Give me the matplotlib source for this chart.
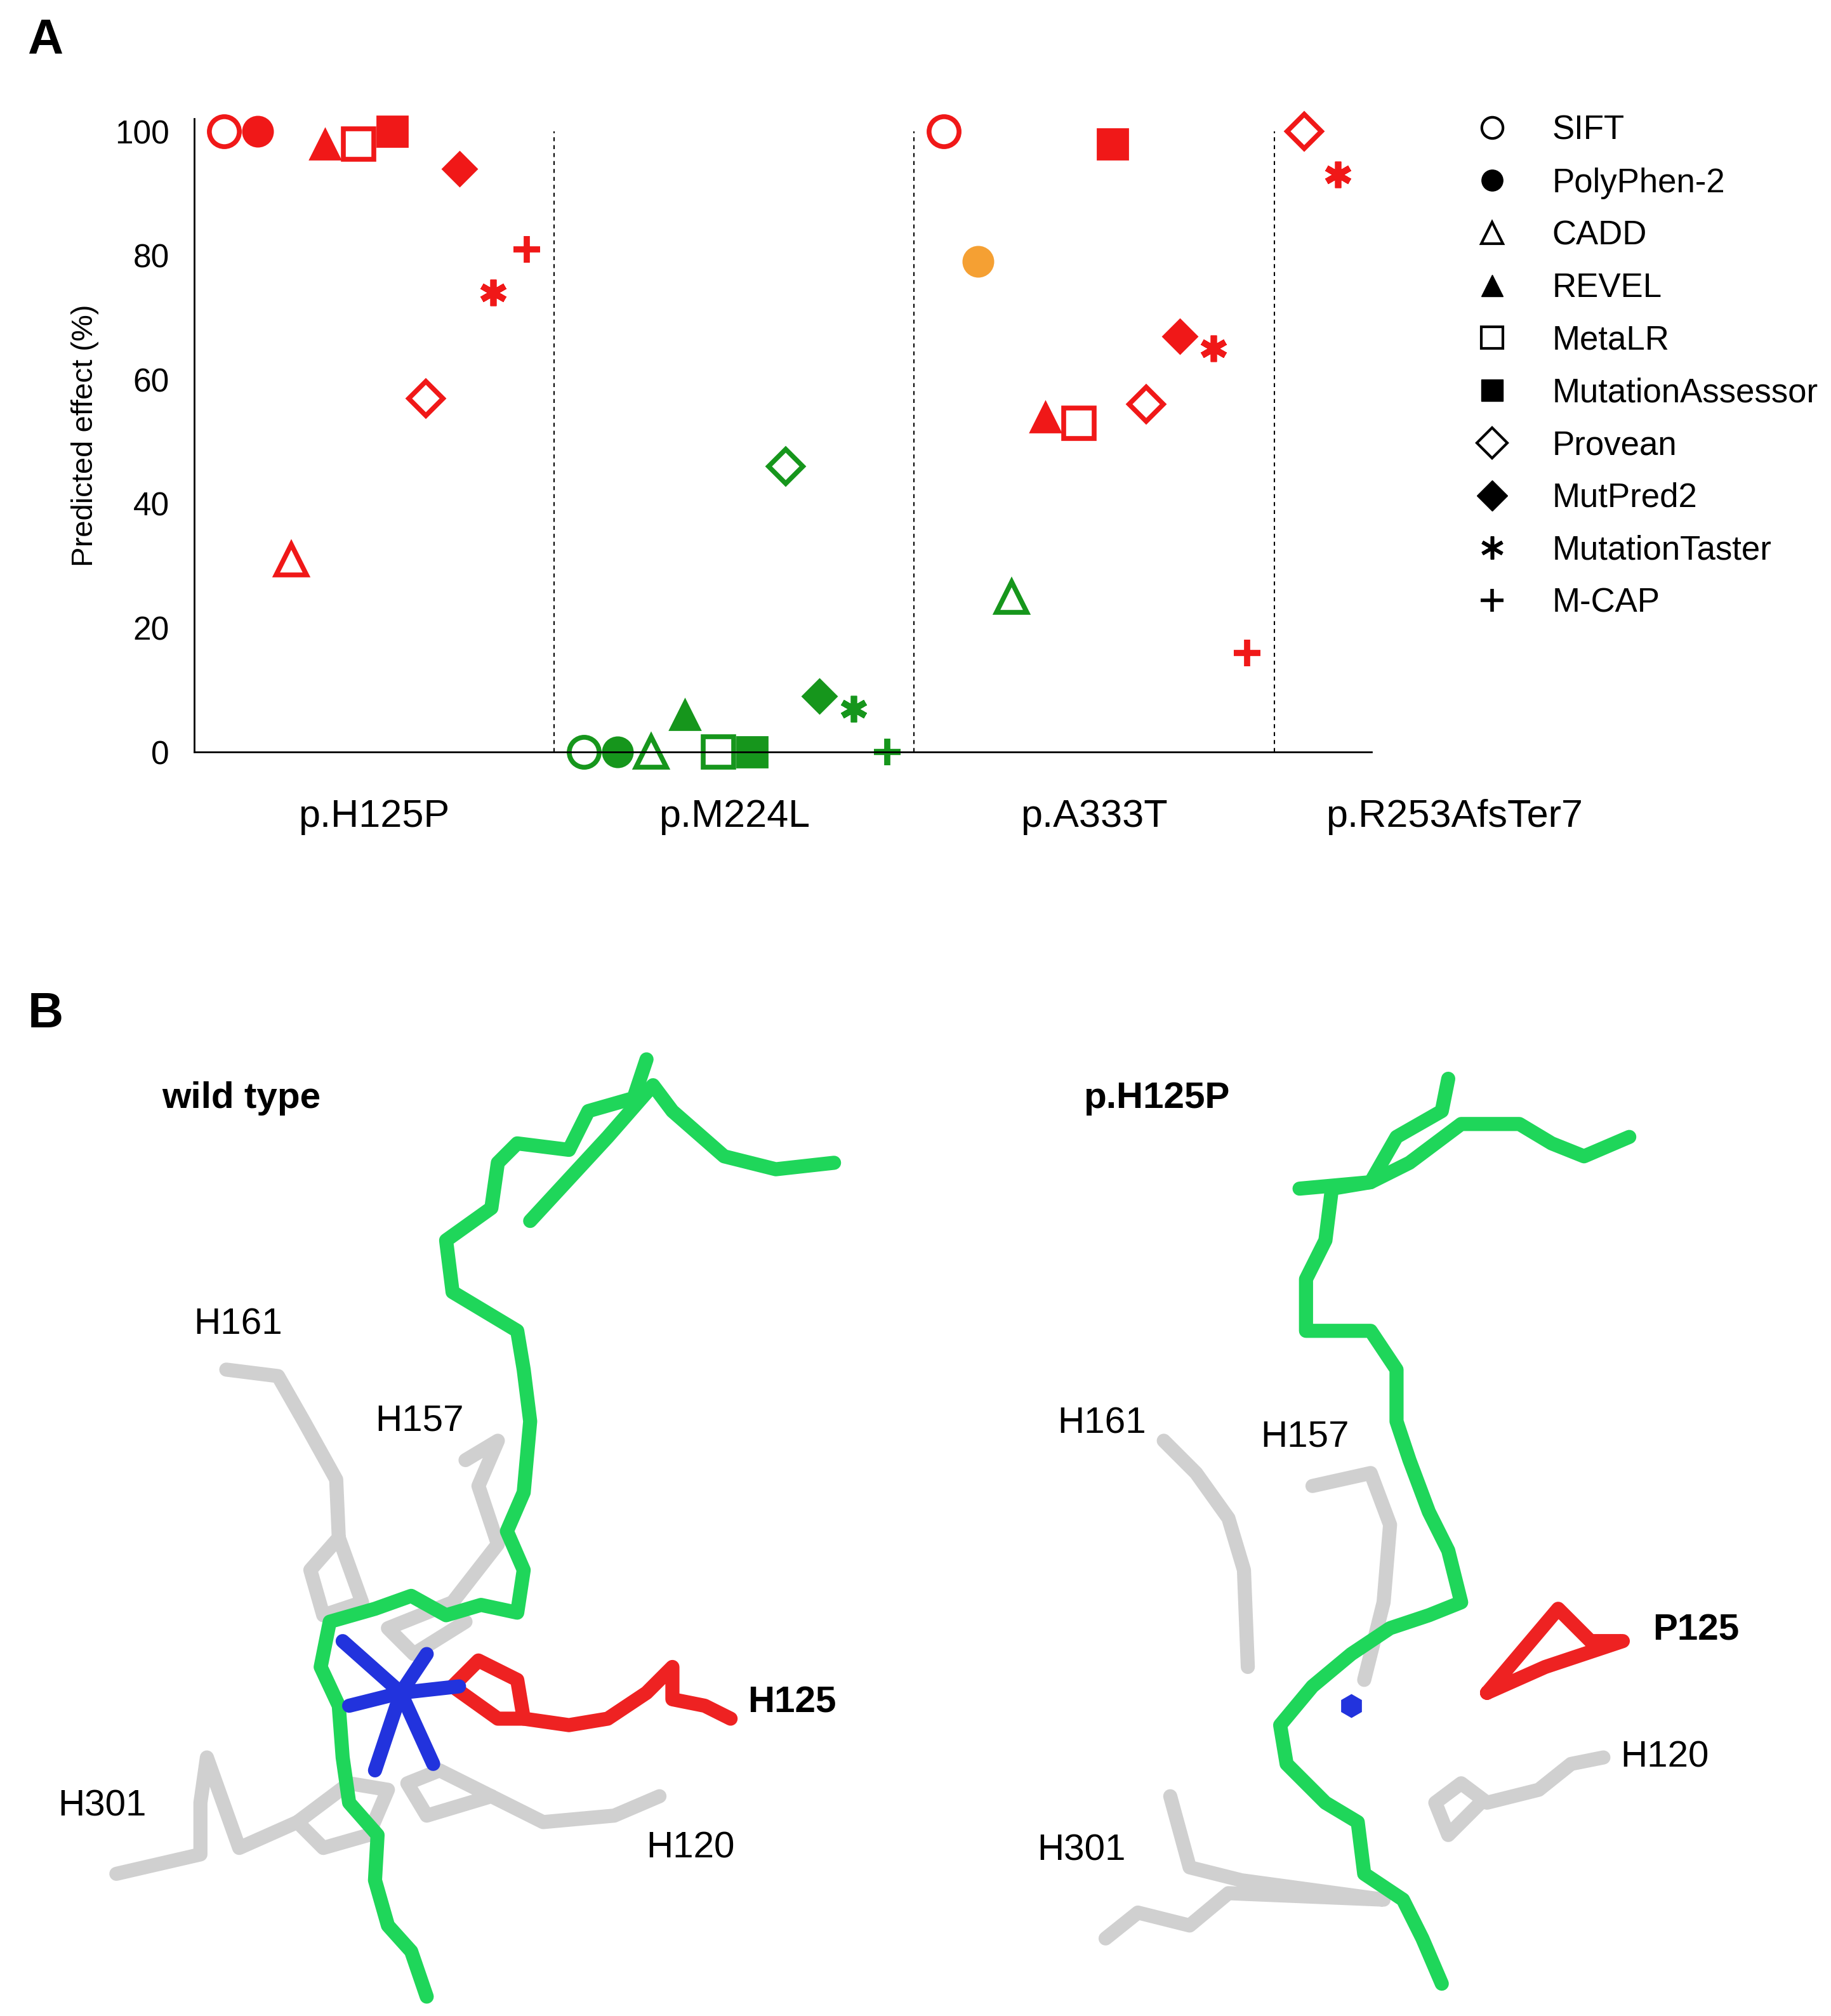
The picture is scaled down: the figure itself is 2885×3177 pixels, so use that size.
import matplotlib.pyplot as plt
from matplotlib.lines import Line2D

plt.rcParams['font.family'] = ['Arial', 'Liberation Sans', 'DejaVu Sans']

# ---- Panel A data ----
variants = ['p.H125P', 'p.M224L', 'p.A333T', 'p.R253AfsTer7']
tools = ['SIFT', 'PolyPhen-2', 'CADD', 'REVEL', 'MetaLR', 'MutationAssessor',
         'Provean', 'MutPred2', 'MutationTaster', 'M-CAP']
markers = ['o', 'o', '^', '^', 's', 's', 'D', 'D', (6, 2, 0), '+']
filled = [False, True, False, True, False, True, False, True, True, True]

h125p = [100, 100, 31, 98, 98, 100, 57, 94, 74, 81]
m224l = [0, 0, 0, 6, 0, 0, 46, 9, 7, 0]
a333t = [100, 79, 25, 54, 53, 98, 56, 67, 65, 16]
r253 = [None, None, None, None, None, None, 100, None, 93, None]

RED, GREEN, ORANGE = '#f01818', '#16961c', '#f5a033'
h125p_col = [RED] * 10
m224l_col = [GREEN] * 10
a333t_col = [RED, ORANGE, GREEN, RED, RED, RED, RED, RED, RED, RED]
r253_col = [RED] * 10

series = [(h125p, h125p_col), (m224l, m224l_col), (a333t, a333t_col), (r253, r253_col)]

fig = plt.figure(figsize=(28.85, 31.77), dpi=100)
ax = fig.add_axes([0.106, 0.627, 0.643, 0.314])

for g, (vals, cols) in enumerate(series):
    k = 0
    for t in range(10):
        if vals[t] is None:
            continue
        x = g + 0.083 + k * 0.0935
        k += 1
        m = markers[t]
        ms = 34 if m != 'D' else 27
        if t >= 8:
            ax.plot(x, vals[t], marker=m, color=cols[t], ms=30, mew=7, clip_on=False)
        elif filled[t]:
            ax.plot(x, vals[t], marker=m, color=cols[t], ms=ms, mew=2, clip_on=False)
        else:
            ax.plot(x, vals[t], marker=m, mfc='white', mec=cols[t], ms=ms, mew=5.5, clip_on=False)

for xd in [1, 2, 3]:
    ax.axvline(xd, color='black', ls=(0, (3, 3)), lw=1.5, ymin=0, ymax=0.98)

ax.set_xlim(0, 3.27)
ax.set_ylim(0, 102)
ax.set_yticks([0, 20, 40, 60, 80, 100])
ax.tick_params(axis='y', length=0, labelsize=37, pad=28)
ax.set_xticks([])
ax.spines['top'].set_visible(False)
ax.spines['right'].set_visible(False)
ax.spines['left'].set_linewidth(2)
ax.spines['bottom'].set_linewidth(2)
ax.set_ylabel('Predicted effect (%)', fontsize=34, labelpad=18)
for g, v in enumerate(variants):
    ax.text(g + 0.5, -10.5, v, ha='center', va='center', fontsize=44, clip_on=False)

handles = []
for t in range(10):
    m = markers[t]
    if t >= 8:
        h = Line2D([], [], ls='', marker=m, color='black', ms=26, mew=4)
    elif filled[t]:
        h = Line2D([], [], ls='', marker=m, color='black', ms=24)
    else:
        h = Line2D([], [], ls='', marker=m, mfc='white', mec='black', ms=24, mew=3)
    handles.append(h)
fig.legend(handles, tools, loc='upper left', bbox_to_anchor=(0.78, 0.958),
           frameon=False, fontsize=38, labelspacing=0.62, handletextpad=0.8)

fig.text(0.015, 0.98, 'A', fontsize=56, fontweight='bold', va='center')
fig.text(0.015, 0.497, 'B', fontsize=56, fontweight='bold', va='center')

# ---- Panel B: stick sketches (display coordinates) ----
wt_backbone = [(330, 1545), (318, 1510), (300, 1490), (290, 1455), (292, 1420), (270, 1395),
               (265, 1360), (262, 1320), (248, 1290), (255, 1255), (290, 1245), (318, 1235),
               (345, 1250), (372, 1242), (400, 1248), (405, 1215), (392, 1185), (405, 1155),
               (410, 1100), (405, 1060), (400, 1030), (350, 1000), (345, 960), (380, 935),
               (385, 900), (400, 885), (440, 890), (455, 860), (490, 850), (500, 820)]
wt_top = [(410, 945), (470, 880), (505, 840), (520, 860), (560, 895), (600, 905), (645, 900)]
wt_grey = [
    [(175, 1060), (215, 1065), (235, 1100), (260, 1145), (262, 1190), (240, 1215),
     (250, 1250), (280, 1240), (262, 1190)],
    [(360, 1130), (385, 1115), (370, 1150), (385, 1195), (350, 1240), (300, 1260),
     (320, 1280), (360, 1255)],
    [(90, 1450), (155, 1435), (155, 1395), (160, 1360), (185, 1430), (230, 1410),
     (250, 1430), (285, 1420), (300, 1385), (270, 1380), (230, 1410)],
    [(510, 1390), (475, 1405), (420, 1410), (380, 1390), (330, 1405), (315, 1380),
     (340, 1370), (380, 1390)],
]
wt_red = [(350, 1305), (370, 1285), (400, 1300), (405, 1330), (440, 1335), (470, 1330),
          (500, 1310), (520, 1290), (520, 1315), (545, 1320), (565, 1330)]
wt_red_ring = [(350, 1305), (385, 1330), (405, 1330)]
wt_blue_center = (310, 1310)
wt_blue_ends = [(265, 1270), (330, 1280), (355, 1305), (335, 1365), (290, 1370), (270, 1320)]

mt_backbone = [(1115, 1535), (1100, 1500), (1085, 1470), (1055, 1450), (1050, 1410),
               (1025, 1395), (995, 1365), (990, 1335), (1015, 1305), (1045, 1280),
               (1075, 1260), (1105, 1250), (1130, 1240), (1120, 1200), (1105, 1170),
               (1090, 1130), (1080, 1100), (1080, 1060), (1060, 1030), (1010, 1030),
               (1010, 990), (1025, 960), (1030, 920), (1060, 915), (1080, 880),
               (1115, 860), (1120, 835)]
mt_top = [(1005, 920), (1060, 915), (1090, 900), (1130, 870), (1175, 870), (1200, 885),
          (1225, 895), (1260, 880)]
mt_grey = [
    [(900, 1115), (925, 1140), (950, 1175), (962, 1215), (965, 1290)],
    [(1015, 1150), (1060, 1140), (1075, 1180), (1070, 1240), (1055, 1300)],
    [(1240, 1360), (1215, 1365), (1190, 1385), (1150, 1395), (1130, 1380), (1110, 1395),
     (1120, 1420), (1145, 1395)],
    [(855, 1500), (880, 1480), (920, 1490), (950, 1465), (1070, 1470), (960, 1455),
     (920, 1445), (905, 1390)],
]
mt_red = [(1150, 1310), (1205, 1245), (1230, 1270), (1255, 1270), (1195, 1290), (1150, 1310)]
mt_blue = (1045, 1320)

bx = fig.add_axes([0, 0, 1, 0.513])
bx.set_xlim(0, 1416)
bx.set_ylim(1560, 760)
bx.axis('off')

SG, SGR, SR, SB = '#1fd65a', '#d0d0d0', '#ee2222', '#2233dd'


def stick(pts, c, lw=16):
    bx.plot([p[0] for p in pts], [p[1] for p in pts], color=c, lw=lw,
            solid_capstyle='round', solid_joinstyle='round')


for grp in (wt_grey, mt_grey):
    for pts in grp:
        stick(pts, SGR)
for pts in (wt_backbone, wt_top, mt_backbone, mt_top):
    stick(pts, SG)
stick(wt_red, SR)
stick(wt_red_ring, SR)
stick(mt_red, SR)
for e in wt_blue_ends:
    stick([wt_blue_center, e], SB)
bx.plot(*mt_blue, 'h', color=SB, ms=26)

labels = [('wild type', 125, 850, True), ('p.H125P', 838, 850, True),
          ('H161', 150, 1025, False), ('H157', 290, 1100, False), ('H125', 578, 1318, True),
          ('H301', 45, 1398, False), ('H120', 500, 1430, False),
          ('H161', 818, 1102, False), ('H157', 975, 1112, False), ('P125', 1278, 1262, True),
          ('H120', 1253, 1360, False), ('H301', 802, 1432, False)]
for txt, x, y, b in labels:
    bx.text(x, y, txt, fontsize=42, va='center', fontweight='bold' if b else 'normal')

fig.savefig('out.png', dpi=100)
